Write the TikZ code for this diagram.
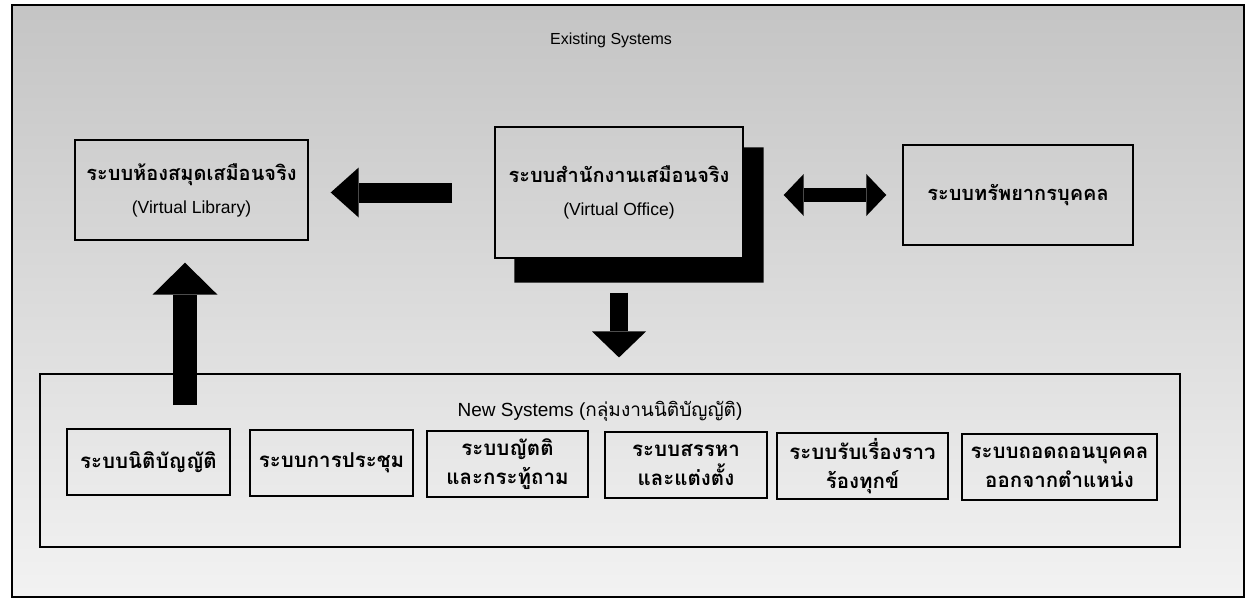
\documentclass[tikz,border=0pt]{standalone}
\usepackage{fontspec}
\setmainfont{Liberation Sans}
\newfontfamily\thaifont[Script=Thai]{Loma}
\usetikzlibrary{arrows.meta,calc}
\newcommand\engtext{\normalfont\fontsize{17.5}{20}\selectfont}
\begin{document}
\begin{tikzpicture}[x=1pt,y=-1pt,
  sysbox/.style={draw=black,line width=1.4pt,inner sep=0pt,align=center,
    font=\thaifont\bfseries\fontsize{20}{33}\selectfont},
  subbox/.style={draw=black,line width=1.4pt,inner sep=0pt,align=center,
    minimum height=66pt,font=\thaifont\bfseries\fontsize{20.5}{29}\selectfont},
  blk/.style={line width=#1,draw=black,line cap=butt},
  frame/.style={draw=black,line width=1.1pt},
  lbl/.style={font=\normalfont\fontsize{16}{19}\selectfont}
]
\useasboundingbox (0,0) rectangle (1251,605);
\fill[white] (0,0) rectangle (1251,605);
\shade[top color=black!23, middle color=black!17, bottom color=black!5] (12,5) rectangle (1244,597);
\draw[frame] (12,5) rectangle (1244,597);

\node[lbl] (existing) at (611,40) {Existing Systems};

% top row
\node[sysbox, minimum width=233pt, minimum height=100pt] (lib) at (191.5,190)
  {ระบบห้องสมุดเสมือนจริง\\{\engtext (Virtual Library)}};
\node[sysbox, minimum width=248pt, minimum height=131pt] (office) at (619,192.5)
  {ระบบสำนักงานเสมือนจริง\\{\engtext (Virtual Office)}};
\fill[black] ($(office.north east)+(0,21)$) -- ($(office.north east)+(20,21)$)
  -- ($(office.south east)+(20,24)$) -- ($(office.south west)+(20,24)$)
  -- ($(office.south west)+(20,0)$) -- (office.south east) -- cycle;
\node[sysbox, minimum width=230pt, minimum height=100pt] (hr) at (1018,195)
  {ระบบทรัพยากรบุคคล};

% new systems
\node[frame, minimum width=1140pt, minimum height=173pt, inner sep=0pt] (newsys) at (610,460.5) {};
\node[font=\normalfont\fontsize{19}{22}\selectfont] (newtitle) at (600,411)
  {New Systems ({\thaifont กลุ่มงานนิติบัญญัติ})};

\node[subbox, minimum width=163pt] (s1) at (148.5,462) {ระบบนิติบัญญัติ};
\node[subbox, minimum width=163pt] (s2) at (331.5,463) {ระบบการประชุม};
\node[subbox, minimum width=161pt] (s3) at (507.5,464) {ระบบญัตติ\\และกระทู้ถาม};
\node[subbox, minimum width=162pt] (s4) at (686,465) {ระบบสรรหา\\และแต่งตั้ง};
\node[subbox, minimum width=171pt] (s5) at (862.5,466) {ระบบรับเรื่องราว\\ร้องทุกข์};
\node[subbox, minimum width=195pt] (s6) at (1059.5,467) {ระบบถอดถอนบุคคล\\ออกจากตำแหน่ง};

% block arrows
\draw[blk=20pt, -{Triangle[length=28pt,width=50pt,line width=0pt]},
  shorten <=42pt, shorten >=22pt] (office.west) -- (office.west -| lib.east);
\draw[blk=14pt, {Triangle[length=20pt,width=42pt,line width=0pt]}-{Triangle[length=20pt,width=42pt,line width=0pt]},
  shorten <=40pt, shorten >=16pt] (hr.west -| office.east) -- (hr.west);
\draw[blk=18pt, -{Triangle[length=26pt,width=54pt,line width=0pt]},
  shorten <=34pt, shorten >=16pt] (office.south) -- (office.south |- newsys.north);
\coordinate (upstart) at (185,405);
\draw[blk=24pt, -{Triangle[length=32pt,width=65pt,line width=0pt]},
  shorten >=22pt] (upstart) -- (upstart |- lib.south);
\end{tikzpicture}
\end{document}
